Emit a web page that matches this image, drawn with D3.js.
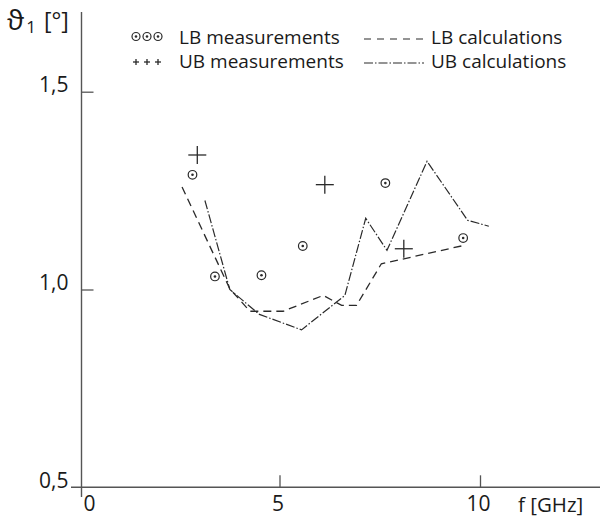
<!DOCTYPE html>
<html><head><meta charset="utf-8">
<script src="https://cdn.jsdelivr.net/npm/d3@7"></script>
<style>
html,body{margin:0;padding:0;background:#fff;}
text{font-family:"Open Sans","Noto Sans",sans-serif;fill:#1a1a1a;}
</style></head>
<body>
<svg id="c" width="600" height="519"></svg>
<script>
// ---- data ----
const xTicks = [0, 5, 10];
const xTickLabels = ["0", "5", "10"];
const yTicks = [0.5, 1.0, 1.5];
const yTickLabels = ["0,5", "1,0", "1,5"];

const lbMeasF = [2.83, 3.39, 4.55, 5.58, 7.64, 9.58];
const lbMeasV = [1.29, 1.033, 1.036, 1.11, 1.269, 1.13];

const ubMeasF = [2.95, 6.13, 8.10];
const ubMeasV = [1.34, 1.265, 1.103];

const lbCalcF = [2.57, 3.76, 4.26, 5.09, 6.09, 6.55, 6.92, 7.54, 9.58];
const lbCalcV = [1.259, 1.002, 0.945, 0.945, 0.985, 0.960, 0.960, 1.065, 1.111];

const ubCalcF = [3.14, 3.76, 4.5, 5.55, 6.63, 7.15, 7.68, 8.68, 9.69, 10.22];
const ubCalcV = [1.225, 1.0, 0.937, 0.898, 0.985, 1.18, 1.099, 1.324, 1.175, 1.16];

const legendLabels = ["LB measurements", "UB measurements", "LB calculations", "UB calculations"];

// ---- scales ----
const svg = d3.select("#c");
const x = d3.scaleLinear().domain([0, 10]).range([79, 480]);
const y = d3.scaleLinear().domain([0.5, 1.5]).range([487.3, 91.7]);
const ink = "#2a2a2a";
const axisCol = "#555";

// axes lines
svg.append("line").attr("x1", 81.5).attr("x2", 81.5).attr("y1", 12).attr("y2", 497)
  .attr("stroke", axisCol).attr("stroke-width", 1.4);
svg.append("line").attr("x1", 71).attr("x2", 600).attr("y1", y(0.5)).attr("y2", y(0.5))
  .attr("stroke", axisCol).attr("stroke-width", 1.4);

// x ticks
const xAxis = d3.axisBottom(x).tickValues(xTicks).tickSize(-12).tickPadding(0)
  .tickFormat((d, i) => xTickLabels[i]);
const gx = svg.append("g").attr("transform", `translate(0,${y(0.5)})`).call(xAxis);
gx.select(".domain").remove();
gx.selectAll(".tick line").attr("stroke", axisCol).attr("stroke-width", 1.3)
  .filter(d => d === 0).remove();
gx.selectAll(".tick text").attr("dy", null).attr("y", 24)
  .style("font-size", "21px").attr("fill", "#1a1a1a")
  .attr("dx", d => d === 0 ? 10 : -2);

// y ticks
const yAxis = d3.axisLeft(y).tickValues(yTicks).tickSize(-12).tickPadding(0)
  .tickFormat((d, i) => yTickLabels[i]);
const gy = svg.append("g").attr("transform", `translate(81.5,0)`).call(yAxis);
gy.select(".domain").remove();
gy.selectAll(".tick line").attr("stroke", axisCol).attr("stroke-width", 1.3)
  .filter(d => d === 0.5).remove();
gy.selectAll(".tick text").attr("dy", null).attr("x", -13).attr("y", 0)
  .style("font-size", "21px").attr("fill", "#1a1a1a");

// axis titles
const yt = svg.append("text").attr("x", 7).attr("y", 30).style("font-size", "28px");
yt.append("tspan").text("ϑ");
yt.append("tspan").attr("dx", 2).attr("dy", 3).style("font-size", "17px").text("1");
yt.append("tspan").attr("dx", 8).attr("dy", -4).style("font-size", "23px").text("[°]");
svg.append("text").attr("x", 518).attr("y", 512).style("font-size", "20.5px").text("f [GHz]");

// lines
const line = d3.line().x(d => x(d[0])).y(d => y(d[1]));
svg.append("path").datum(d3.zip(lbCalcF, lbCalcV)).attr("d", line)
  .attr("fill", "none").attr("stroke", ink).attr("stroke-width", 1.3)
  .attr("stroke-dasharray", "8,5");
svg.append("path").datum(d3.zip(ubCalcF, ubCalcV)).attr("d", line)
  .attr("fill", "none").attr("stroke", ink).attr("stroke-width", 1.2)
  .attr("stroke-dasharray", "9,2,1.5,2");

// markers
function circMark(g, cx, cy, r) {
  g.append("circle").attr("cx", cx).attr("cy", cy).attr("r", r)
    .attr("fill", "none").attr("stroke", ink).attr("stroke-width", 1.2);
  g.append("circle").attr("cx", cx).attr("cy", cy).attr("r", 1.3).attr("fill", ink);
}
function plusMark(g, cx, cy, h) {
  g.append("line").attr("x1", cx - h).attr("x2", cx + h).attr("y1", cy).attr("y2", cy)
    .attr("stroke", ink).attr("stroke-width", 1.3);
  g.append("line").attr("x1", cx).attr("x2", cx).attr("y1", cy - h).attr("y2", cy + h)
    .attr("stroke", ink).attr("stroke-width", 1.3);
}
const gm = svg.append("g");
d3.zip(lbMeasF, lbMeasV).forEach(d => circMark(gm, x(d[0]), y(d[1]), 4.3));
d3.zip(ubMeasF, ubMeasV).forEach(d => plusMark(gm, x(d[0]), y(d[1]), 9));

// legend
const lg = svg.append("g");
[136, 147, 158].forEach(cx => circMark(lg, cx, 36.5, 4));
[136, 147, 158].forEach(cx => plusMark(lg, cx, 62, 3));
lg.append("text").attr("x", 179).attr("y", 43.5).style("font-size", "19px").text(legendLabels[0]);
lg.append("text").attr("x", 179).attr("y", 67.5).style("font-size", "19px").text(legendLabels[1]);
lg.append("line").attr("x1", 364).attr("x2", 424).attr("y1", 39).attr("y2", 39)
  .attr("stroke", ink).attr("stroke-width", 1.2).attr("stroke-dasharray", "7,6");
lg.append("line").attr("x1", 364).attr("x2", 424).attr("y1", 63).attr("y2", 63)
  .attr("stroke", ink).attr("stroke-width", 1.1).attr("stroke-dasharray", "9,2,1.5,2");
lg.append("text").attr("x", 431).attr("y", 43.5).style("font-size", "19px").text(legendLabels[2]);
lg.append("text").attr("x", 431).attr("y", 67.5).style("font-size", "19px").text(legendLabels[3]);
</script>
</body></html>
